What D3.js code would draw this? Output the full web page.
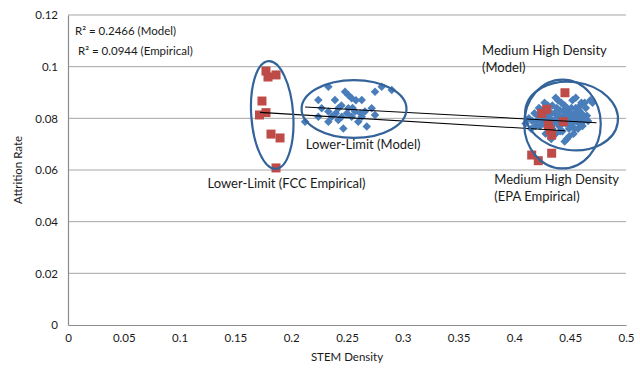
<!DOCTYPE html>
<meta charset="utf-8">
<script src="https://d3js.org/d3.v7.min.js"></script>
<style>
  body { margin: 0; background: #fff; }
  text { font-family: Lato, "Open Sans", sans-serif; fill: #1a1a1a; }
</style>
<div id="chart"></div>
<script>

// tick values
var xTicks = [0, 0.05, 0.1, 0.15, 0.2, 0.25, 0.3, 0.35, 0.4, 0.45, 0.5];
var yTicks = [0, 0.02, 0.04, 0.06, 0.08, 0.1, 0.12];

// model points (blue diamonds), [STEM density, attrition rate]
var modelLow = [
  [0.2333, 0.0922], [0.2243, 0.0871], [0.2392, 0.0871], [0.2482, 0.0903], [0.2512, 0.0890],
  [0.2542, 0.0878], [0.2632, 0.0871], [0.2751, 0.0903], [0.2811, 0.0922], [0.2901, 0.0910],
  [0.2273, 0.0839], [0.2333, 0.0826], [0.2422, 0.0839], [0.2512, 0.0839], [0.2572, 0.0826],
  [0.2661, 0.0826], [0.2721, 0.0839], [0.2243, 0.0806], [0.2363, 0.0806], [0.2453, 0.0806],
  [0.2542, 0.0806], [0.2632, 0.0806], [0.2751, 0.0813], [0.2124, 0.0787], [0.2333, 0.0787],
  [0.2422, 0.0794], [0.2601, 0.0787], [0.2467, 0.0761], [0.2677, 0.0768], [0.2450, 0.0850],
  [0.2550, 0.0840], [0.2580, 0.0870], [0.2620, 0.0820], [0.2400, 0.0820], [0.2500, 0.0820]
];
var modelHigh = [
  [0.410, 0.078], [0.413, 0.080], [0.415, 0.076], [0.418, 0.082], [0.420, 0.079], [0.422, 0.084],
  [0.423, 0.077], [0.425, 0.081], [0.427, 0.086], [0.428, 0.079], [0.430, 0.083], [0.431, 0.076],
  [0.432, 0.080], [0.434, 0.085], [0.435, 0.078], [0.436, 0.082], [0.437, 0.074], [0.438, 0.080],
  [0.439, 0.087], [0.440, 0.077], [0.441, 0.083], [0.442, 0.079], [0.443, 0.075], [0.444, 0.081],
  [0.445, 0.085], [0.446, 0.078], [0.447, 0.072], [0.448, 0.082], [0.449, 0.076], [0.450, 0.080],
  [0.451, 0.084], [0.452, 0.078], [0.453, 0.074], [0.454, 0.082], [0.455, 0.088], [0.456, 0.079],
  [0.457, 0.076], [0.458, 0.083], [0.459, 0.080], [0.460, 0.086], [0.461, 0.077], [0.462, 0.081],
  [0.464, 0.084], [0.466, 0.079], [0.468, 0.087], [0.470, 0.086], [0.433, 0.072], [0.445, 0.071],
  [0.428, 0.074], [0.437, 0.088], [0.452, 0.087], [0.426, 0.078],
  [0.416, 0.079], [0.419, 0.077], [0.421, 0.081], [0.424, 0.083], [0.426, 0.080], [0.429, 0.081],
  [0.431, 0.078], [0.433, 0.082], [0.434, 0.076], [0.436, 0.079], [0.438, 0.084], [0.439, 0.078],
  [0.440, 0.081], [0.442, 0.086], [0.443, 0.078], [0.444, 0.083], [0.446, 0.080], [0.447, 0.084],
  [0.448, 0.079], [0.449, 0.073], [0.450, 0.082], [0.451, 0.077], [0.453, 0.080], [0.454, 0.076],
  [0.455, 0.084], [0.456, 0.081], [0.458, 0.078], [0.459, 0.085], [0.460, 0.082], [0.462, 0.079],
  [0.463, 0.086], [0.465, 0.081], [0.441, 0.075], [0.435, 0.074], [0.430, 0.085], [0.424, 0.079]
];

// empirical points (red squares)
var empirical = [
  [0.1774, 0.0983], [0.1792, 0.0960], [0.1864, 0.0968], [0.1738, 0.0867], [0.1774, 0.0822],
  [0.1716, 0.0813], [0.1819, 0.0739], [0.1900, 0.0724], [0.1864, 0.0608],
  [0.4453, 0.0899], [0.4289, 0.0835], [0.4245, 0.0819], [0.4438, 0.0787], [0.4304, 0.0774],
  [0.4319, 0.0755], [0.4334, 0.0735], [0.4155, 0.0658], [0.4214, 0.0636], [0.4334, 0.0665]
];

// linear trendlines, read as end points
var trendModel = [[0.2124, 0.0844], [0.4736, 0.0783]];
var trendEmpirical = [[0.1720, 0.0823], [0.4453, 0.0752]];

// hand drawn ellipses: centre x, centre y, half width, half height (data units), rotation
var ellipses = [
  {cx: 0.183, cy: 0.0813, rx: 0.0188, ry: 0.0209, rot: -4},
  {cx: 0.2563, cy: 0.0836, rx: 0.0470, ry: 0.0112, rot: 0},
  {cx: 0.4431, cy: 0.0778, rx: 0.0343, ry: 0.0172, rot: 0},
  {cx: 0.4512, cy: 0.0809, rx: 0.0418, ry: 0.0132, rot: 8}
];

var labels = [
  {x: 0.213, y: 0.0680, lines: ["Lower-Limit (Model)"]},
  {x: 0.125, y: 0.0530, lines: ["Lower-Limit (FCC Empirical)"]},
  {x: 0.371, y: 0.1045, lines: ["Medium High Density", "(Model)"]},
  {x: 0.382, y: 0.0545, lines: ["Medium High Density", "(EPA Empirical)"]}
];

var W = 640, H = 369;
var margin = {top: 15, right: 14, bottom: 44, left: 68};

var svg = d3.select("#chart")
  .append("svg")
    .attr("width", W)
    .attr("height", H);

var x = d3.scaleLinear()
  .domain([0, 0.5])
  .range([margin.left, W - margin.right]);
var y = d3.scaleLinear()
  .domain([0, 0.12])
  .range([H - margin.bottom, margin.top]);

// gridlines
svg.append("g")
  .selectAll("line")
  .data(yTicks.slice(1))
  .enter().append("line")
    .attr("x1", x(0)).attr("x2", x(0.5))
    .attr("y1", function(d) { return y(d); })
    .attr("y2", function(d) { return y(d); })
    .attr("stroke", "#a6a6a6")
    .attr("stroke-width", 1);

// axes
var xAxis = svg.append("g")
  .attr("transform", "translate(0," + y(0) + ")")
  .call(d3.axisBottom(x).tickValues(xTicks).tickFormat(d3.format("")).tickSize(0).tickPadding(9));
var yAxis = svg.append("g")
  .attr("transform", "translate(" + x(0) + ",0)")
  .call(d3.axisLeft(y).tickValues(yTicks).tickFormat(d3.format("")).tickSize(0).tickPadding(10));
[xAxis, yAxis].forEach(function(a) {
  a.select(".domain").attr("stroke", "#8c8c8c").attr("stroke-width", 1.2);
  a.selectAll("text").style("font-family", "Lato, sans-serif").style("font-size", "11.5px").attr("fill", "#1a1a1a");
});

// axis titles
svg.append("text")
  .attr("x", x(0.25)).attr("y", 361)
  .attr("text-anchor", "middle")
  .style("font-size", "11.5px")
  .text("STEM Density");
svg.append("text")
  .attr("transform", "translate(22," + y(0.06) + ") rotate(-90)")
  .attr("text-anchor", "middle")
  .style("font-size", "11.5px")
  .text("Attrition Rate");

// diamonds
var diamond = d3.symbol().type(d3.symbolDiamond2).size(46);
svg.append("g")
  .selectAll("path")
  .data(modelLow.concat(modelHigh))
  .enter().append("path")
    .attr("d", diamond)
    .attr("transform", function(d) { return "translate(" + x(d[0]) + "," + y(d[1]) + ")"; })
    .attr("fill", "#4a7ebb");

// squares
svg.append("g")
  .selectAll("rect")
  .data(empirical)
  .enter().append("rect")
    .attr("x", function(d) { return x(d[0]) - 4.5; })
    .attr("y", function(d) { return y(d[1]) - 4.5; })
    .attr("width", 9)
    .attr("height", 9)
    .attr("fill", "#be4b48");

// trendlines
var line = d3.line()
  .x(function(d) { return x(d[0]); })
  .y(function(d) { return y(d[1]); });
[trendModel, trendEmpirical].forEach(function(t) {
  svg.append("path")
    .attr("d", line(t))
    .attr("fill", "none")
    .attr("stroke", "#000")
    .attr("stroke-width", 1.1);
});

// ellipses
svg.append("g")
  .selectAll("ellipse")
  .data(ellipses)
  .enter().append("ellipse")
    .attr("transform", function(d) { return "translate(" + x(d.cx) + "," + y(d.cy) + ") rotate(" + d.rot + ")"; })
    .attr("rx", function(d) { return x(d.rx) - x(0); })
    .attr("ry", function(d) { return y(0) - y(d.ry); })
    .attr("fill", "none")
    .attr("stroke", "#34639a")
    .attr("stroke-width", 2.2);

// text annotations
var lab = svg.append("g")
  .selectAll("text")
  .data(labels)
  .enter().append("text")
    .attr("x", function(d) { return x(d.x); })
    .attr("y", function(d) { return y(d.y); })
    .style("font-size", "13px");
lab.selectAll("tspan")
  .data(function(d) { return d.lines.map(function(l) { return {t: l, x: x(d.x)}; }); })
  .enter().append("tspan")
    .attr("x", function(d) { return d.x; })
    .attr("dy", function(d, i) { return i ? 17 : 0; })
    .text(function(d) { return d.t; });

// R squared boxes
svg.append("text").attr("x", 75).attr("y", 35).style("font-size", "11.5px")
  .text("R² = 0.2466 (Model)");
svg.append("text").attr("x", 78).attr("y", 55).style("font-size", "11.5px")
  .text("R² = 0.0944 (Empirical)");

</script>
